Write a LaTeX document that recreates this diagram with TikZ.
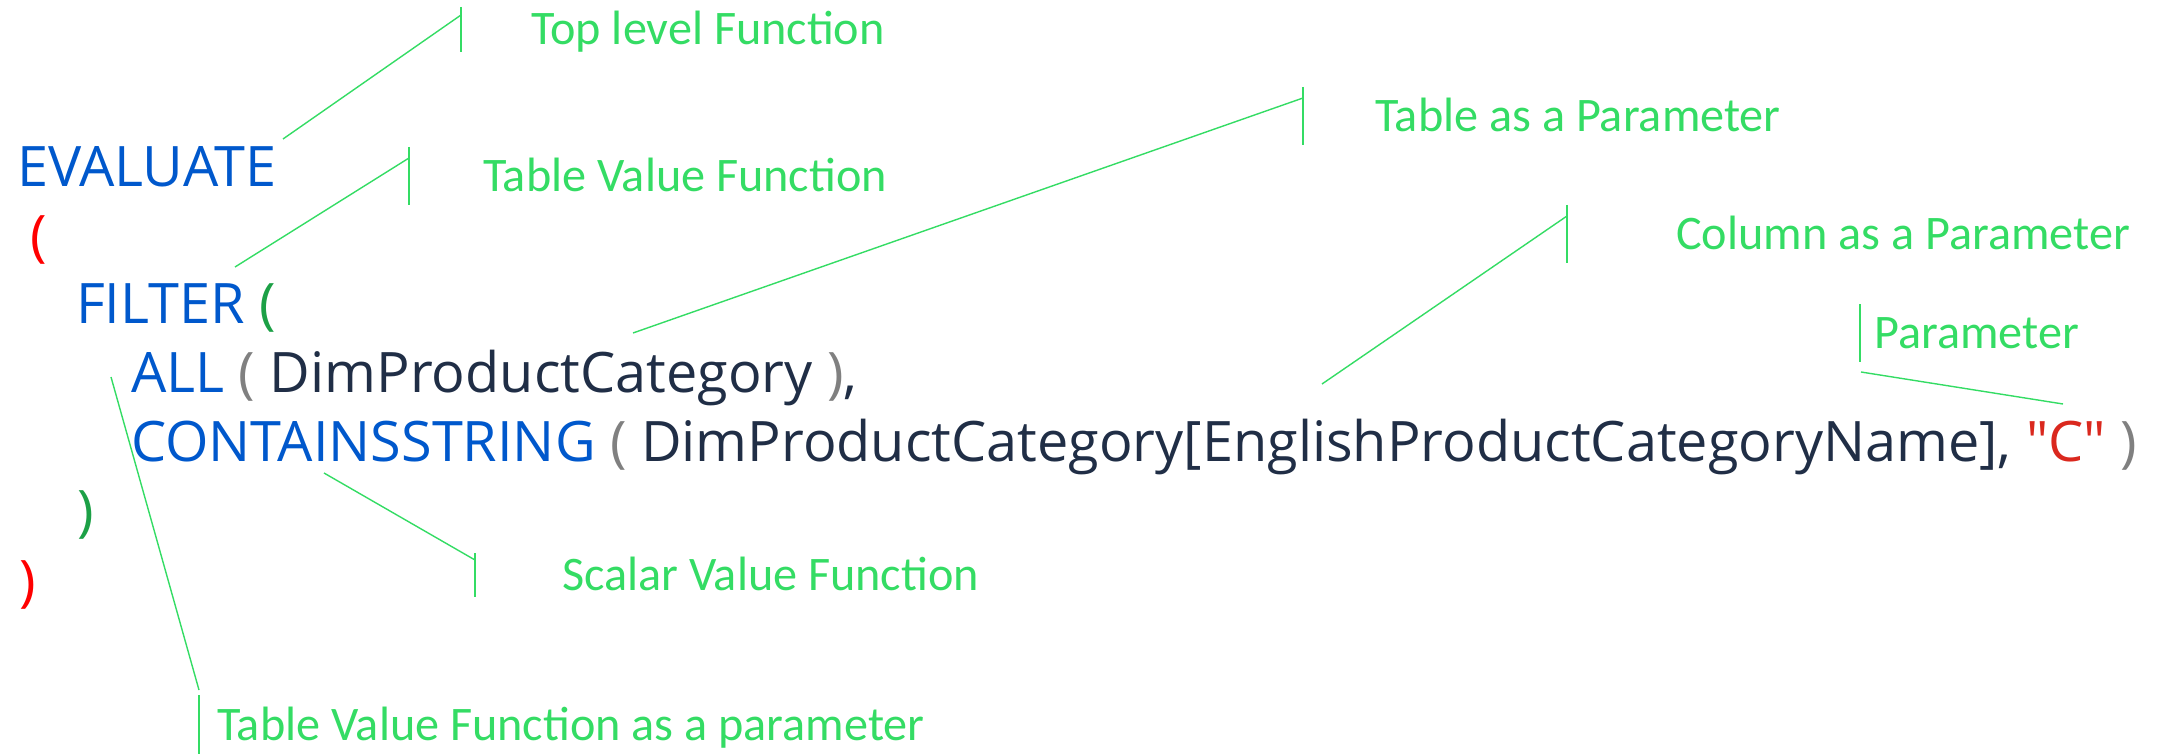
\documentclass[tikz,border=0pt]{standalone}
\usepackage{fontspec}
\newfontfamily\codefont{Open Sans}
\newfontfamily\labfont{Carlito}
\definecolor{kwblue}{RGB}{0,88,204}
\definecolor{codedark}{RGB}{32,46,70}
\definecolor{pgray}{RGB}{128,128,128}
\definecolor{strred}{RGB}{218,40,30}
\definecolor{pred}{RGB}{255,0,0}
\definecolor{pgreen}{RGB}{28,160,70}
\definecolor{labgreen}{RGB}{52,220,100}
\tikzset{
  codeline/.style={anchor=base west,inner sep=0pt,font=\codefont\fontsize{55.8}{66}\selectfont,text=codedark},
  annot/.style={anchor=base west,inner sep=0pt,font=\labfont\fontsize{48.2}{58}\selectfont,text=labgreen},
  leader/.style={draw=labgreen,line width=1.4pt},
}
\begin{document}
\begin{tikzpicture}[x=1pt,y=-1pt]
\useasboundingbox (0,0) rectangle (2164,754);
% code
\node[codeline] (evaluate) at (17,187) {\textcolor{kwblue}{EVALUATE}};
\node[codeline] (open1) at (30,255) {\textcolor{pred}{(}};
\node[codeline] (filter) at (76,323) {\textcolor{kwblue}{FILTER} \textcolor{pgreen}{(}};
\node[codeline] (all) at (131,392) {\textcolor{kwblue}{ALL} \textcolor{pgray}{(} DimProductCategory \textcolor{pgray}{)},};
\node[codeline] (contains) at (131,461) {\textcolor{kwblue}{CONTAINSSTRING} \textcolor{pgray}{(} DimProductCategory[EnglishProductCategoryName], \textcolor{strred}{"C"} \textcolor{pgray}{)}};
\node[codeline] (close2) at (77,530) {\textcolor{pgreen}{)}};
\node[codeline] (close1) at (19,600) {\textcolor{pred})};
% labels
\node[annot] (l1) at (531,45) {Top level Function};
\node[annot] (l2) at (483,192) {Table Value Function};
\node[annot] (l3) at (1375,132) {Table as a Parameter};
\node[annot] (l4) at (1676,250) {Column as a Parameter};
\node[annot] (l5) at (1874,348) {Parameter};
\node[annot] (l6) at (562,590) {Scalar Value Function};
\node[annot] (l7) at (217,740) {Table Value Function as a parameter};
% leader coordinates
\coordinate (a1) at (283,139); \coordinate (b1) at (461,15); \coordinate (t1a) at (461,7); \coordinate (t1b) at (461,52);
\coordinate (a2) at (235,267); \coordinate (b2) at (409,158); \coordinate (t2a) at (409,147); \coordinate (t2b) at (409,205);
\coordinate (a3) at (633,333); \coordinate (b3) at (1303,98); \coordinate (t3a) at (1303,87); \coordinate (t3b) at (1303,145);
\coordinate (a4) at (1322,384); \coordinate (b4) at (1567,216); \coordinate (t4a) at (1567,205); \coordinate (t4b) at (1567,263);
\coordinate (a5) at (2063,404); \coordinate (b5) at (1861,372); \coordinate (t5a) at (1860,304); \coordinate (t5b) at (1860,362);
\coordinate (a6) at (324,473); \coordinate (b6) at (475,560); \coordinate (t6a) at (475,553); \coordinate (t6b) at (475,597);
\coordinate (a7) at (111,377); \coordinate (b7) at (199,690); \coordinate (t7a) at (199,695); \coordinate (t7b) at (199,754);
\foreach \i in {1,...,7}{
  \draw[leader] (a\i) -- (b\i);
  \draw[leader] (t\i a) -- (t\i b);
}
\end{tikzpicture}
\end{document}
